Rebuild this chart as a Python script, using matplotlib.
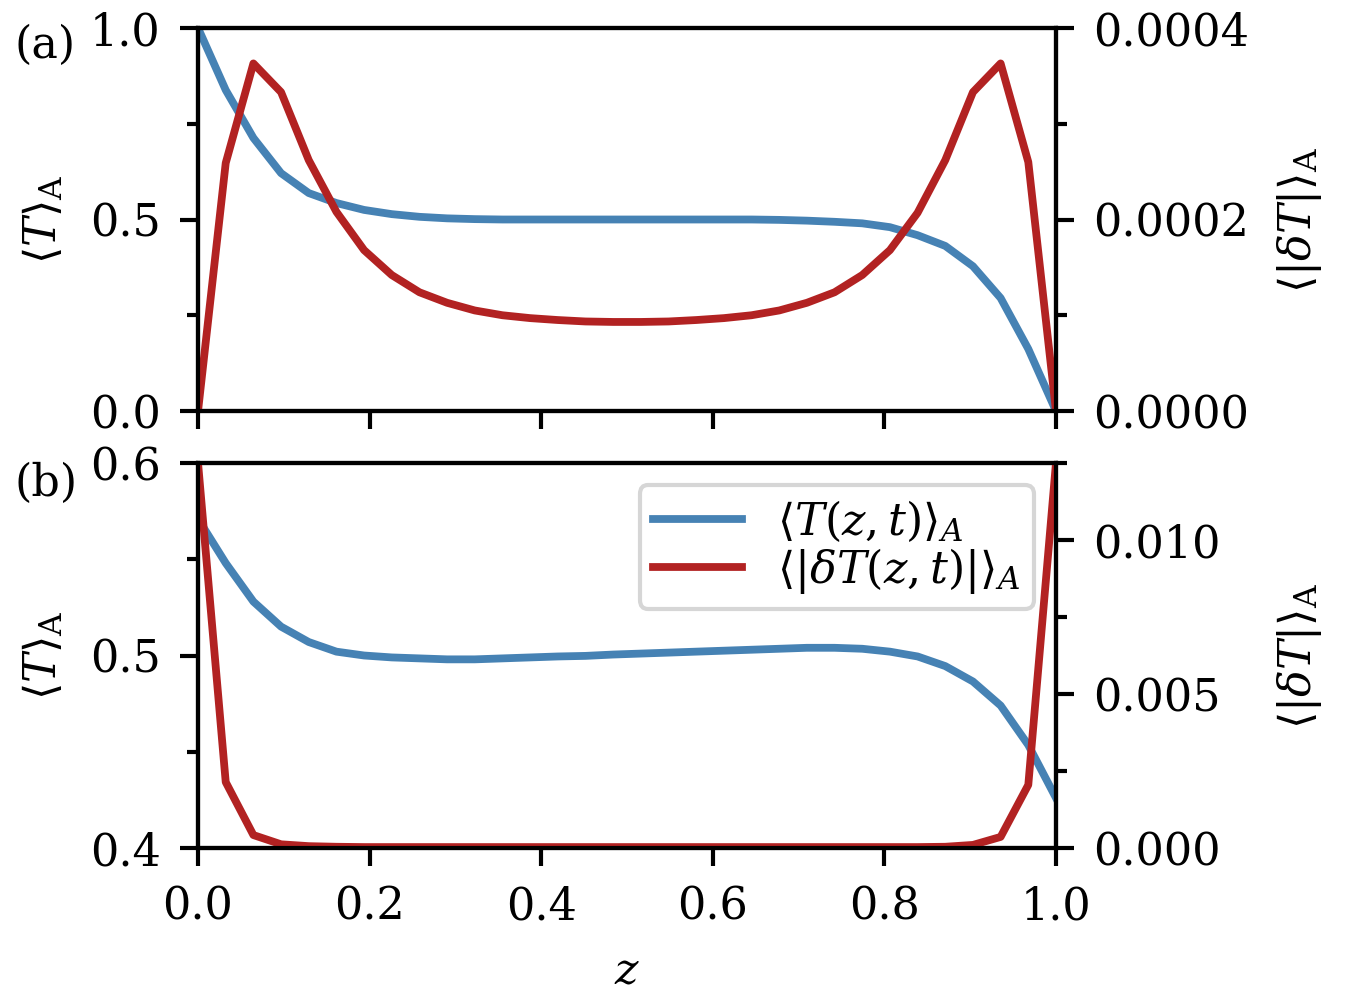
import numpy as np, matplotlib
matplotlib.use('Agg')
import matplotlib.pyplot as plt
from matplotlib import rcParams
from matplotlib.ticker import MultipleLocator

rcParams['font.family'] = 'serif'
rcParams['font.serif'] = ['DejaVu Serif']
rcParams['mathtext.fontset'] = 'dejavuserif'
rcParams['font.size'] = 16
rcParams['axes.linewidth'] = 1.5

# 32 grid points in z
z = np.linspace(0, 1, 32)

# panel (a)
T_a = [1.0, 0.838, 0.713, 0.621, 0.569, 0.543, 0.525, 0.514, 0.507, 0.503, 0.501,
       0.500, 0.500, 0.500, 0.500, 0.500, 0.500, 0.500, 0.500, 0.500, 0.500, 0.499,
       0.497, 0.494, 0.490, 0.480, 0.459, 0.431, 0.378, 0.295, 0.162, 0.0]
dT_a = [0.0, 2.59, 3.63, 3.33, 2.62, 2.08, 1.68, 1.42, 1.24, 1.13, 1.05, 1.00, 0.97,
        0.95, 0.935, 0.93, 0.93, 0.935, 0.95, 0.97, 1.00, 1.05, 1.13, 1.24, 1.42,
        1.68, 2.07, 2.62, 3.33, 3.63, 2.60, 0.0]  # x 1e-4

# panel (b)
T_b = [0.571, 0.548, 0.528, 0.515, 0.507, 0.502, 0.500, 0.499, 0.4985, 0.498, 0.498,
       0.4985, 0.499, 0.4995, 0.4998, 0.5005, 0.501, 0.5015, 0.502, 0.5025, 0.503,
       0.5035, 0.504, 0.504, 0.5035, 0.502, 0.4995, 0.4945, 0.4865, 0.474, 0.4535, 0.426]
dT_b = [12.5, 2.14, 0.42, 0.12, 0.06, 0.04, 0.03, 0.03, 0.03, 0.03, 0.03, 0.03, 0.03,
        0.03, 0.03, 0.03, 0.03, 0.03, 0.03, 0.03, 0.03, 0.03, 0.03, 0.03, 0.03, 0.03,
        0.03, 0.04, 0.10, 0.36, 2.05, 12.5]  # x 1e-3

blue = '#4682B4'
red = '#B22222'
lw = 2.8

fig = plt.figure(figsize=(6.75, 5), dpi=200)
ax_a = fig.add_axes([0.1467, 0.589, 0.6355, 0.383])
ax_b = fig.add_axes([0.1467, 0.152, 0.6355, 0.385])
ax_a2 = ax_a.twinx()
ax_b2 = ax_b.twinx()

ax_a.plot(z, T_a, color=blue, lw=lw)
ax_a2.plot(z, np.array(dT_a) * 1e-4, color=red, lw=lw)
l1, = ax_b.plot(z, T_b, color=blue, lw=lw, label=r'$\langle T(z,t)\rangle_A$')
l2, = ax_b2.plot(z, np.array(dT_b) * 1e-3, color=red, lw=lw,
                 label=r'$\langle|\delta T(z,t)|\rangle_A$')

for ax in (ax_a, ax_b, ax_a2, ax_b2):
    ax.set_xlim(0, 1)
    ax.xaxis.set_major_locator(MultipleLocator(0.2))
    ax.tick_params(which='major', length=6.5, width=1.5, pad=7)
    ax.tick_params(which='minor', length=3.8, width=1.5)

ax_a.set_ylim(0, 1)
ax_a.yaxis.set_major_locator(MultipleLocator(0.5))
ax_a.yaxis.set_minor_locator(MultipleLocator(0.25))
ax_a2.set_ylim(0, 0.0004)
ax_a2.yaxis.set_major_locator(MultipleLocator(0.0002))
ax_a2.yaxis.set_minor_locator(MultipleLocator(0.0001))
ax_a.tick_params(axis='x', labelbottom=False)

ax_b.set_ylim(0.4, 0.6)
ax_b.yaxis.set_major_locator(MultipleLocator(0.1))
ax_b.yaxis.set_minor_locator(MultipleLocator(0.05))
ax_b2.set_ylim(0, 0.0125)
ax_b2.yaxis.set_major_locator(MultipleLocator(0.005))
ax_b2.yaxis.set_minor_locator(MultipleLocator(0.0025))
ax_b2.yaxis.set_major_formatter(plt.FormatStrFormatter('%.3f'))
ax_a2.yaxis.set_major_formatter(plt.FormatStrFormatter('%.4f'))
ax_a.yaxis.set_major_formatter(plt.FormatStrFormatter('%.1f'))
ax_b.yaxis.set_major_formatter(plt.FormatStrFormatter('%.1f'))
ax_b.xaxis.set_major_formatter(plt.FormatStrFormatter('%.1f'))

for ax in (ax_a, ax_b):
    ax.set_ylabel(r'$\langle T\rangle_\mathrm{A}$')
    ax.yaxis.set_label_coords(-0.155, 0.5)
for ax in (ax_a2, ax_b2):
    ax.set_ylabel(r'$\langle|\delta T|\rangle_\mathrm{A}$')
    ax.yaxis.set_label_coords(1.255, 0.5)

ax_b.set_xlabel(r'$z$', labelpad=7.5)

leg = ax_b2.legend(handles=[l1, l2], loc='upper right', handlelength=2.0,
                   labelspacing=0.05, borderpad=0.3)
leg.get_frame().set_linewidth(1.5)

fig.text(14 / 1350, 1 - 45 / 1000, '(a)', ha='left', va='center')
fig.text(14 / 1350, 1 - 483 / 1000, '(b)', ha='left', va='center')

plt.savefig('out.png', dpi=200)
